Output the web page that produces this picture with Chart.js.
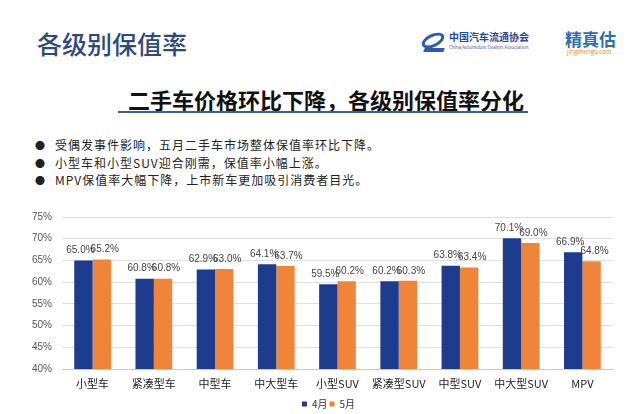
<!DOCTYPE html>
<html lang="zh">
<head>
    <meta charset="UTF-8">
    <title>各级别保值率</title>
    <script src="https://cdn.jsdelivr.net/npm/chart.js@4.4.1/dist/chart.umd.min.js"></script>
    <style>
        html, body { margin: 0; padding: 0; background: #fff; }
        body { width: 640px; height: 414px; position: relative; overflow: hidden; font-family: "Noto Sans CJK SC", "Noto Sans", sans-serif; }
        .abs { position: absolute; line-height: 1; white-space: nowrap; }
        #title { left: 37px; top: 31px; font-size: 25px; color: #2c4a7c; font-weight: 500; }
        #cada { left: 449px; top: 32px; font-size: 10px; color: #1f4a9c; font-weight: bold; }
        #cadaEn { left: 449px; top: 45px; font-size: 4.5px; color: #4a5f8c; }
        #icon { left: 421px; top: 34px; width: 24px; height: 13px; border: 3px solid #2a5bb0; border-radius: 50%; transform: rotate(-25deg); box-sizing: border-box; }
        #iconBase { left: 424px; top: 48px; width: 20px; height: 4px; background: #2a5bb0; transform: skewX(-20deg); }
        #jzg { left: 565px; top: 30px; font-size: 17px; color: #2c6db6; font-weight: bold; }
        #jzgEn { left: 567px; top: 49px; font-size: 6px; color: #ea8a3c; }
        #sub { left: 0; width: 652px; text-align: center; top: 88px; font-size: 22px; font-weight: bold; color: #111; }
        #subLine { left: 118px; top: 111px; width: 410px; height: 2px; background: #3f5f92; }
        .bullet { left: 35px; font-size: 12px; color: #222; letter-spacing: 1px; }
        .bullet span { display: inline-block; width: 20px; font-size: 10px; }
        #chartBox { position: absolute; left: 0; top: 201px; width: 640px; height: 213px; }
    </style>
</head>
<body>
    <div class="abs" id="title">各级别保值率</div>
    <div class="abs" id="icon"></div>
    <div class="abs" id="iconBase"></div>
    <div class="abs" id="cada">中国汽车流通协会</div>
    <div class="abs" id="cadaEn">China Automobile Dealers Association</div>
    <div class="abs" id="jzg">精真估</div>
    <div class="abs" id="jzgEn">jingzhengu.com</div>

    <div class="abs" id="sub">二手车价格环比下降，各级别保值率分化</div>
    <div class="abs" id="subLine"></div>

    <div class="abs bullet" style="top:139px"><span>●</span>受偶发事件影响，五月二手车市场整体保值率环比下降。</div>
    <div class="abs bullet" style="top:157px"><span>●</span>小型车和小型SUV迎合刚需，保值率小幅上涨。</div>
    <div class="abs bullet" style="top:174px"><span>●</span>MPV保值率大幅下降，上市新车更加吸引消费者目光。</div>

    <div id="chartBox"><canvas id="chart"></canvas></div>

    <script>
        var categories = ["小型车", "紧凑型车", "中型车", "中大型车", "小型SUV", "紧凑型SUV", "中型SUV", "中大型SUV", "MPV"];
        var april = [65.0, 60.8, 62.9, 64.1, 59.5, 60.2, 63.8, 70.1, 66.9];
        var may = [65.2, 60.8, 63.0, 63.7, 60.2, 60.3, 63.4, 69.0, 64.8];
        var seriesNames = ["4月", "5月"];
        var yTicks = [40, 45, 50, 55, 60, 65, 70, 75];

        // value labels above each bar
        var barLabels = {
            id: 'barLabels',
            afterLayout: function (chart) {
                // legend sits a little right of centre and lower in the original
                chart.legend.left += 22;
                chart.legend.right += 22;
                chart.legend.top += 5;
                chart.legend.bottom += 5;
            },
            afterDatasetsDraw: function (chart) {
                var ctx = chart.ctx;
                ctx.save();
                ctx.font = '10px "Liberation Sans Narrow", "Liberation Sans", sans-serif';
                ctx.fillStyle = '#444';
                ctx.textAlign = 'center';
                ctx.textBaseline = 'bottom';
                chart.data.datasets.forEach(function (ds, i) {
                    var shift = i === 0 ? -3 : 3;
                    chart.getDatasetMeta(i).data.forEach(function (bar, j) {
                        ctx.fillText(ds.data[j].toFixed(1) + '%', bar.x + shift, bar.y - 5);
                    });
                });
                ctx.restore();
            }
        };

        var ctx = document.getElementById("chart").getContext('2d');
        var chart = new Chart(ctx, {
            type: 'bar',
            data: {
                labels: categories,
                datasets: [{
                    label: seriesNames[0],
                    data: april,
                    backgroundColor: '#1d3c8e',
                    categoryPercentage: 0.6,
                    barPercentage: 1.0
                }, {
                    label: seriesNames[1],
                    data: may,
                    backgroundColor: '#f0853a',
                    categoryPercentage: 0.6,
                    barPercentage: 1.0
                }]
            },
            options: {
                responsive: true,
                maintainAspectRatio: false,
                animation: false,
                layout: {
                    padding: { top: 13, right: 27, left: 0, bottom: 0 }
                },
                plugins: {
                    legend: {
                        position: 'bottom',
                        labels: {
                            boxWidth: 5,
                            boxHeight: 5,
                            padding: 2,
                            color: '#333',
                            font: { size: 10, family: '"Noto Sans CJK SC", sans-serif' }
                        }
                    },
                    tooltip: { enabled: false }
                },
                scales: {
                    x: {
                        grid: { display: false, drawTicks: false },
                        border: { color: '#c8c8c8' },
                        ticks: {
                            color: '#222',
                            padding: 8,
                            font: { size: 11, family: '"Noto Sans CJK SC", sans-serif' }
                        },
                        afterFit: function (scale) { scale.height = 23; }
                    },
                    y: {
                        min: 40,
                        max: 75,
                        afterBuildTicks: function (scale) {
                            scale.ticks = yTicks.map(function (v) { return { value: v }; });
                        },
                        grid: { color: '#e0e0e0', drawTicks: false },
                        border: { display: false },
                        ticks: {
                            color: '#555',
                            padding: 10,
                            font: { size: 10, family: '"Liberation Sans", sans-serif' },
                            callback: function (v) { return v + '%'; }
                        },
                        afterFit: function (scale) { scale.width = 62; }
                    }
                }
            },
            plugins: [barLabels]
        });
    </script>
</body>
</html>
